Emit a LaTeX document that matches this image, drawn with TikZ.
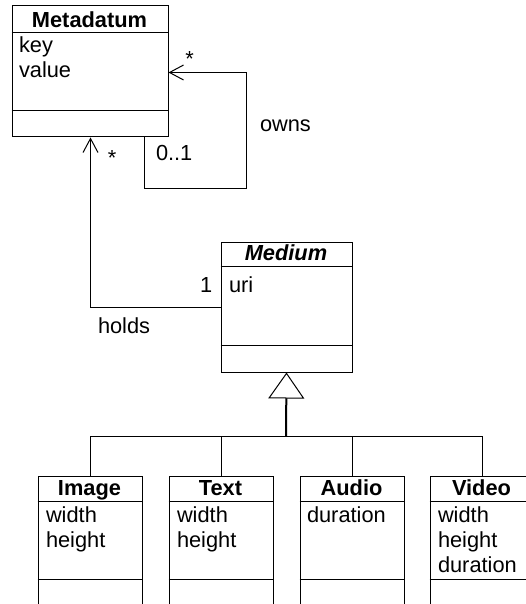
\documentclass[tikz,border=0pt]{standalone}
\usepackage{fontspec}
\setmainfont{Liberation Sans}
\usetikzlibrary{arrows.meta,calc}

\tikzset{
  txt/.style={inner sep=0pt, font=\fontsize{21.8pt}{25pt}\selectfont},
  title/.style={txt, anchor=base, font=\fontsize{21.8pt}{25pt}\selectfont\bfseries},
  abstitle/.style={txt, anchor=base, font=\fontsize{21.8pt}{25pt}\selectfont\bfseries\itshape},
  attr/.style={txt, anchor=base west},
  lbl/.style={txt, anchor=base west},
  mult/.style={txt, anchor=base},
  umlclass/.style 2 args={draw, rectangle, anchor=north west, inner sep=0pt,
    minimum width=#1, minimum height=#2},
  nav/.style={-{Straight Barb[length=14pt,width=15pt]}},
  inherit/.style={line width=2pt,
    -{Triangle[open,length=26pt,width=36pt,line width=1pt]}},
}

% horizontal compartment separators of a class box
\newcommand{\classrules}[3]{%
  \draw ($(#1.north west)+(0,#2)$) -- ($(#1.north east)+(0,#2)$);
  \draw ($(#1.north west)+(0,#3)$) -- ($(#1.north east)+(0,#3)$);}

\begin{document}
\begin{tikzpicture}[x=1pt, y=-1pt, line width=1pt]
  % frame offset by half a unit so 1pt rules sit on whole pixels
  \useasboundingbox (-0.5,-0.5) rectangle (525.5,603.5);
  \clip (-0.5,-0.5) rectangle (525.5,603.5);
  \fill[white] (-0.5,-0.5) rectangle (525.5,603.5);

  % Metadatum
  \node[umlclass={156pt}{131pt}] (meta) at (11,5) {};
  \classrules{meta}{27}{105}
  \node[title] (metaT) at (89,27) {Metadatum};
  \node[attr] (metaA1) at (18,52) {key};
  \node[attr] (metaA2) at (18,77) {value};

  % Medium (abstract)
  \node[umlclass={131pt}{130pt}] (medium) at (220,241) {};
  \classrules{medium}{25}{104}
  \node[abstitle] (mediumT) at (285.5,260) {Medium};
  \node[attr] (mediumA1) at (228,292) {uri};

  % Image
  \node[umlclass={104pt}{150pt}] (image) at (37,475) {};
  \classrules{image}{26}{104}
  \node[title] (imageT) at (89,495) {Image};
  \node[attr] (imageA1) at (45,522) {width};
  \node[attr] (imageA2) at (45,547) {height};

  % Text
  \node[umlclass={104pt}{150pt}] (text) at (168,475) {};
  \classrules{text}{26}{104}
  \node[title] (textT) at (220,495) {Text};
  \node[attr] (textA1) at (176,522) {width};
  \node[attr] (textA2) at (176,547) {height};

  % Audio
  \node[umlclass={104pt}{150pt}] (audio) at (299,475) {};
  \classrules{audio}{26}{104}
  \node[title] (audioT) at (351,495) {Audio};
  \node[attr] (audioA1) at (306,522) {duration};

  % Video
  \node[umlclass={104pt}{150pt}] (video) at (429,475) {};
  \classrules{video}{26}{104}
  \node[title] (videoT) at (481,495) {Video};
  \node[attr] (videoA1) at (437,522) {width};
  \node[attr] (videoA2) at (437,547) {height};
  \node[attr] (videoA3) at (437,572) {duration};

  % owns: self association of Metadatum
  \coordinate (loopstart) at ($(meta.south east)+(-24,0)$);
  \coordinate (loopcorner) at (246,188);
  \coordinate (loopend) at ($(meta.north east)+(0,67)$);
  \draw[nav] (loopstart) |- (loopcorner) |- (loopend);
  \node[mult] (ownsMany) at (189,66) {*};
  \node[lbl] (ownsOne) at (155,160) {0..1};
  \node[lbl] (ownsL) at (259,131) {owns};

  % holds: Medium to Metadatum
  \coordinate (holdsend) at ($(meta.south west)+(79,0)$);
  \draw[nav] (medium.west) -| (holdsend);
  \node[mult] (holdsMany) at (111.5,165) {*};
  \node[lbl] (holdsOne) at (199,292) {1};
  \node[lbl] (holdsL) at (97,333) {holds};

  % generalization tree
  \coordinate (gen) at (285.5,436);
  \draw[inherit] (gen) -- (medium.south);
  \draw (image.north) |- (gen) -| (video.north);
  \draw (text.north) -- (text.north |- gen);
  \draw (audio.north) -- (audio.north |- gen);
\end{tikzpicture}
\end{document}
